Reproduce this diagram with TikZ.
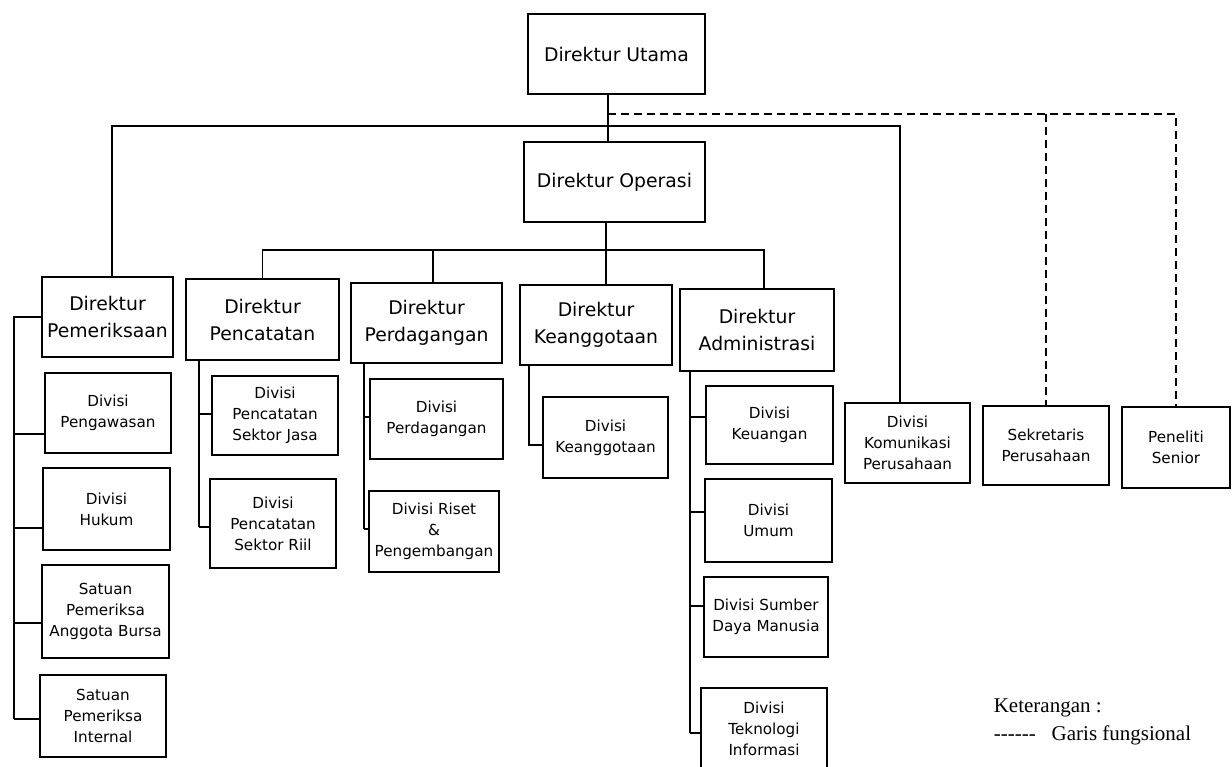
\documentclass[tikz,border=0pt]{standalone}
\usepackage{fontspec}
\newfontfamily\boxfont{DejaVu Sans}
\newfontfamily\legfont{Liberation Serif}

\begin{document}
\begin{tikzpicture}[x=0.5pt, y=-0.5pt, line width=0.8pt,
    dirbox/.style={draw, inner sep=0pt, align=center, font=\boxfont\fontsize{9.4}{13.5}\selectfont},
    divbox/.style={draw, inner sep=0pt, align=center, font=\boxfont\fontsize{7.6}{10.5}\selectfont},
    fung/.style={dash pattern=on 4pt off 2.5pt},
    legtxt/.style={font=\legfont\fontsize{10.5}{13.5}\selectfont, inner sep=0pt}]
    \useasboundingbox (0,0) rectangle (1232,766);

    % Pimpinan
    \node[dirbox, minimum width=88.5pt, minimum height=40pt] (du) at (616.5,54) {Direktur Utama};
    \node[dirbox, minimum width=90.5pt, minimum height=40pt] (dop) at (614.5,182) {Direktur Operasi};

    % Direktur
    \node[dirbox, minimum width=65.5pt, minimum height=40pt] (dpem) at (107.5,317) {Direktur\\Pemeriksaan};
    \node[dirbox, minimum width=76.5pt, minimum height=40.5pt] (dpen) at (262.5,319.5) {Direktur\\Pencatatan};
    \node[dirbox, minimum width=75.5pt, minimum height=40pt] (dper) at (426.5,323) {Direktur\\Perdagangan};
    \node[dirbox, minimum width=76pt, minimum height=40pt] (dkea) at (596,325) {Direktur\\Keanggotaan};
    \node[dirbox, minimum width=77pt, minimum height=41pt] (dadm) at (757,330) {Direktur\\Administrasi};

    % Divisi di bawah Direktur Pemeriksaan
    \node[divbox, minimum width=63pt, minimum height=40pt] (peng) at (108,413) {Divisi\\Pengawasan};
    \node[divbox, minimum width=63.5pt, minimum height=41pt] (huk) at (106.5,509) {Divisi\\Hukum};
    \node[divbox, minimum width=63.5pt, minimum height=46.5pt] (sang) at (105.5,611.5) {Satuan\\Pemeriksa\\Anggota Bursa};
    \node[divbox, minimum width=63pt, minimum height=41pt] (sint) at (103,716) {Satuan\\Pemeriksa\\Internal};

    % Divisi di bawah Direktur Pencatatan
    \node[divbox, minimum width=63pt, minimum height=39.5pt] (jasa) at (275,415.5) {Divisi\\Pencatatan\\Sektor Jasa};
    \node[divbox, minimum width=63pt, minimum height=44.5pt] (riil) at (273,523.5) {Divisi\\Pencatatan\\Sektor Riil};

    % Divisi di bawah Direktur Perdagangan
    \node[divbox, minimum width=66.5pt, minimum height=40pt] (dvper) at (436.5,419) {Divisi\\Perdagangan};
    \node[divbox, minimum width=65pt, minimum height=40.5pt] (riset) at (434,531.5) {Divisi Riset\\\&\\Pengembangan};

    % Divisi di bawah Direktur Keanggotaan
    \node[divbox, minimum width=62.5pt, minimum height=40.5pt] (dvkea) at (605.5,437.5) {Divisi\\Keanggotaan};

    % Divisi di bawah Direktur Administrasi
    \node[divbox, minimum width=63.5pt, minimum height=39pt] (keu) at (769.5,425) {Divisi\\Keuangan};
    \node[divbox, minimum width=63.5pt, minimum height=41.5pt] (umum) at (768.5,520.5) {Divisi\\Umum};
    \node[divbox, minimum width=62pt, minimum height=40pt] (sdm) at (766,617) {Divisi Sumber\\Daya Manusia};
    \node[divbox, minimum width=63pt, minimum height=41pt] (ti) at (764,729) {Divisi\\Teknologi\\Informasi};

    % Langsung di bawah Direktur Utama
    \node[divbox, minimum width=62.5pt, minimum height=40pt] (dkom) at (907.5,443) {Divisi\\Komunikasi\\Perusahaan};
    \node[divbox, minimum width=63pt, minimum height=39.5pt] (sek) at (1046,445.5) {Sekretaris\\Perusahaan};
    \node[divbox, minimum width=54pt, minimum height=40.5pt] (pen) at (1176,447.5) {Peneliti\\Senior};

    % Garis komando atas
    \coordinate (tbar) at (608,126);
    \coordinate (dbar) at (608,114);
    \coordinate (obar) at (606,250);
    \draw ([xshift=-4.25pt]du.south) -- ([xshift=-3.25pt]dop.north);
    \draw ([xshift=2.25pt]dpem.north) |- (tbar) -| ([xshift=-3.75pt]dkom.north);
    \draw[fung] (dbar) -| (pen.north);
    \draw[fung] (dbar -| sek.north) -- (sek.north);

    % Garis di bawah Direktur Operasi
    \draw ([xshift=-4.25pt]dop.south) -- ([xshift=-4.25pt]dop.south |- obar);
    \draw (dpen.north) |- (obar) -| ([xshift=3.5pt]dadm.north);
    \draw ([xshift=3.25pt]dper.north) -- ([xshift=3.25pt]dper.north |- obar);
    \draw ([xshift=5pt]dkea.north) -- ([xshift=5pt]dkea.north |- obar);

    % Garis ke divisi
    \coordinate (spA) at (14,0);
    \coordinate (spB) at (199,0);
    \coordinate (spC) at (364,0);
    \coordinate (spD) at (529,0);
    \coordinate (spE) at (690,0);
    \draw (dpem.west) -| ([yshift=-1.5pt]sint.west -| spA);
    \foreach \n/\d in {peng/-10.5, huk/-9.5, sang/-5.75, sint/-1.5}
        \draw ([yshift=\d pt]\n.west) -- ([yshift=\d pt]\n.west -| spA);
    \draw (spB |- dpen.south) -- ([yshift=-1.75pt]riil.west -| spB);
    \foreach \n/\d in {jasa/0.75, riil/-1.75}
        \draw ([yshift=\d pt]\n.west) -- ([yshift=\d pt]\n.west -| spB);
    \draw (spC |- dper.south) -- ([yshift=1.25pt]riset.west -| spC);
    \foreach \n/\d in {dvper/1, riset/1.25}
        \draw ([yshift=\d pt]\n.west) -- ([yshift=\d pt]\n.west -| spC);
    \draw (spD |- dkea.south) |- ([yshift=-3.75pt]dvkea.west);
    \draw (spE |- dadm.south) -- ([yshift=-2pt]ti.west -| spE);
    \foreach \n/\d in {keu/4, umum/4.25, sdm/5.5, ti/-2}
        \draw ([yshift=\d pt]\n.west) -- ([yshift=\d pt]\n.west -| spE);

    % Keterangan
    \node[legtxt, anchor=west] (ket) at (993,708) {Keterangan :};
    \node[legtxt, anchor=west] (gf) at (993,735) {------\hspace{8pt}Garis fungsional};
\end{tikzpicture}
\end{document}
